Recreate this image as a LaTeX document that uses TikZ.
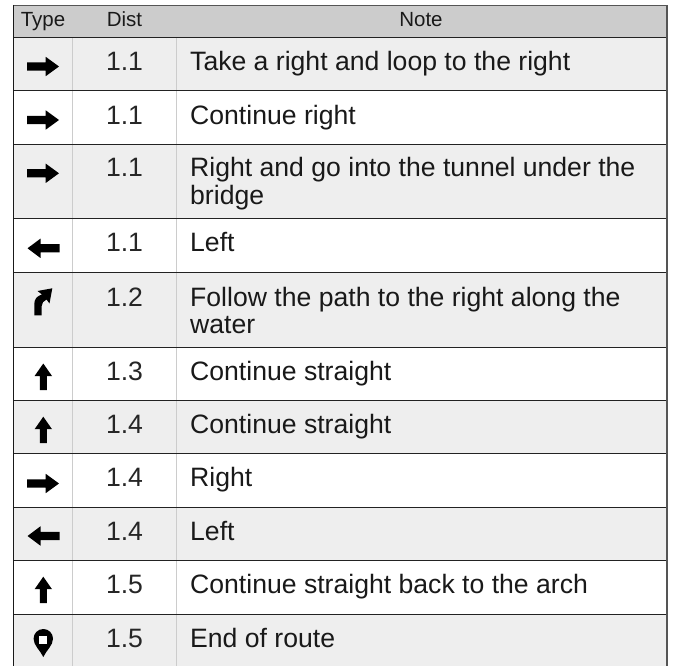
\documentclass[tikz,border=0pt]{standalone}
\usepackage{fontspec}
\setmainfont{Liberation Sans}
\tikzset{
  x=1pt,y=-1pt,
  oddrow/.style={fill=rowgrey,draw=none},
  hline/.style={draw=rule,line width=1.2pt},
  vline/.style={draw=divider,line width=1.5pt},
  frameleft/.style={draw=black!90,line width=1.3pt},
  frameother/.style={draw=frame,line width=1.5pt},
  headtext/.style={inner sep=0pt,anchor=base,font=\fontsize{20.5}{24}\selectfont,text=black!90},
  disttext/.style={inner sep=0pt,anchor=base,font=\fontsize{26.6}{30}\selectfont,text=black!85},
  notetext/.style={inner sep=0pt,anchor=base west,align=left,font=\fontsize{26.6}{30}\selectfont,text=black!90},
  icon/.style={fill=black,draw=none},
}
\definecolor{rowgrey}{HTML}{EEEEEE}
\definecolor{headgrey}{HTML}{CCCCCC}
\definecolor{rule}{HTML}{222222}
\definecolor{divider}{HTML}{CCCCCC}
\definecolor{frame}{HTML}{555555}
\newcommand{\iconright}[1]{\fill[icon] (27,#1-4.2) -- (45.7,#1-4.2) -- (45.7,#1-9.7) -- (59,#1) -- (45.7,#1+9.7) -- (45.7,#1+4.2) -- (27,#1+4.2) -- cycle;}
\newcommand{\iconleft}[1]{\fill[icon] (59.5,#1-4.2) -- (40.5,#1-4.2) -- (40.5,#1-9.7) -- (27.5,#1) -- (40.5,#1+9.7) -- (40.5,#1+4.2) -- (59.5,#1+4.2) -- cycle;}
\newcommand{\iconup}[1]{\fill[icon] (43.3,#1) -- (52,#1+12.5) -- (46.8,#1+12.5) -- (46.8,#1+26.5) -- (39.8,#1+26.5) -- (39.8,#1+12.5) -- (34.6,#1+12.5) -- cycle;}
\begin{document}
\begin{tikzpicture}
\useasboundingbox (0,0) rectangle (673,666);
\fill[white] (0,0) rectangle (673,666);
% bands
\fill[headgrey] (13.5,5.5) rectangle (667,37.5);
\foreach \a/\b in {37.5/90.5,144.5/218.5,272.5/347.5,400.5/453.5,507.5/560.5,614.5/666}
  \fill[oddrow] (13.5,\a) rectangle (667,\b);
% column dividers
\foreach \x in {72.5,176.5} \draw[vline] (\x,37.5) -- (\x,666);
% row rules
\foreach \y in {37.5,90.5,144.5,218.5,272.5,347.5,400.5,453.5,507.5,560.5,614.5}
  \draw[hline] (13.5,\y) -- (667,\y);
% frame
\draw[frameother] (13.5,5.5) -- (667,5.5) -- (667,666);
\draw[frameleft] (13.5,5) -- (13.5,666);
% header
\node[headtext] (hType) at (43,27) {Type};
\node[headtext] (hDist) at (124.5,27) {Dist};
\node[headtext] (hNote) at (421,27) {Note};
% distances
\foreach \n/\y/\d in {1/71/1.1,2/124.5/1.1,3/177/1.1,4/252/1.1,5/306.5/1.2,6/380/1.3,7/433/1.4,8/486.7/1.4,9/540/1.4,10/593.7/1.5,11/647/1.5}
  \node[disttext] (d\n) at (124.5,\y) {\d};
% notes
\node[notetext] (n1) at (190,71) {Take a right and loop to the right};
\node[notetext] (n2) at (190,124.5) {Continue right};
\node[notetext] (n3) at (190,177) {Right and go into the tunnel under the};
\node[notetext] (n3b) at (190,205) {bridge};
\node[notetext] (n4) at (190,252) {Left};
\node[notetext] (n5) at (190,306.5) {Follow the path to the right along the};
\node[notetext] (n5b) at (190,334) {water};
\node[notetext] (n6) at (190,380) {Continue straight};
\node[notetext] (n7) at (190,433) {Continue straight};
\node[notetext] (n8) at (190,486.7) {Right};
\node[notetext] (n9) at (190,540) {Left};
\node[notetext] (n10) at (190,593.7) {Continue straight back to the arch};
\node[notetext] (n11) at (190,647) {End of route};
% icons
\iconright{66.5}
\iconright{120}
\iconright{173.3}
\iconleft{248.3}
\fill[icon] (34.3,315.3) -- (34.3,304) .. controls (34.3,299) and (37,296) .. (42,294.5) -- (37.5,291) -- (52.3,288.3) -- (49.5,303.5) -- (46.5,299.5) .. controls (43.5,301) and (41.7,303) .. (41.7,306) -- (41.7,315.3) -- cycle;
\iconup{363.5}
\iconup{416.7}
\iconright{483.5}
\iconleft{536}
\iconup{576.7}
\fill[icon] (43.3,657) .. controls (40,650) and (33.6,645.5) .. (33.6,638.7) arc[start angle=180,end angle=360,radius=9.7] .. controls (53,645.5) and (46.6,650) .. (43.3,657) -- cycle;
\fill[white] (39.3,636) rectangle (47.3,644);
\end{tikzpicture}
\end{document}
